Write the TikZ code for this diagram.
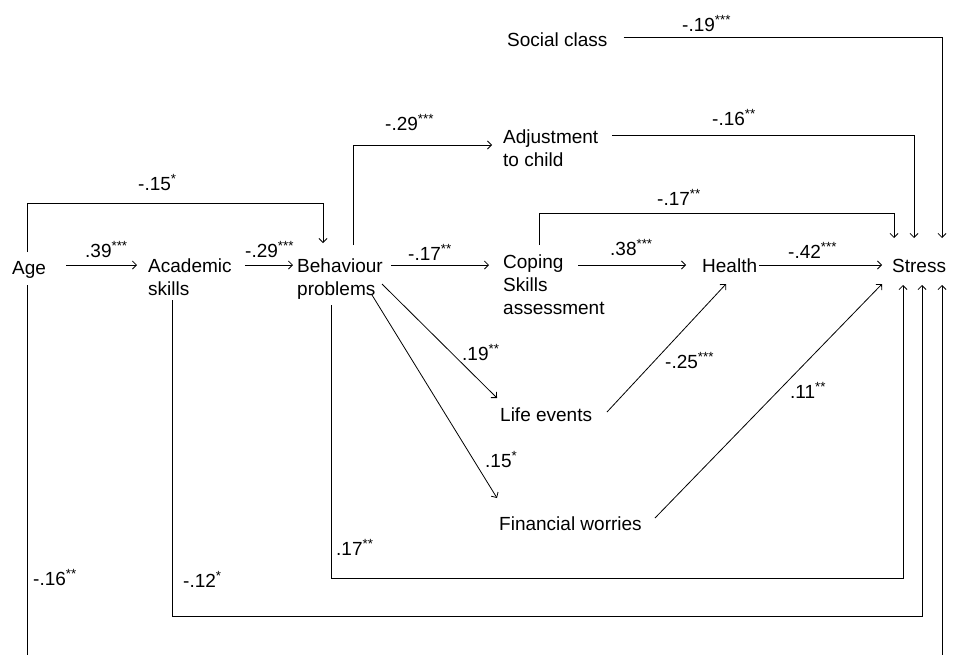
\documentclass[tikz,border=0pt]{standalone}
\usepackage{fontspec}
\setmainfont{Liberation Sans}
\usetikzlibrary{arrows.meta,calc}

\tikzset{
  var/.style={anchor=base west, inner sep=0pt, align=left},
  coef/.style={anchor=base west, inner sep=0pt},
  link/.style={line width=0.8pt},
  arr/.style={link, -{Straight Barb[length=4pt,width=8pt]}},
}
\newcommand{\sig}[1]{\textsuperscript{#1}}

\begin{document}
\begin{tikzpicture}[x=1pt,y=-1pt,font=\fontsize{19}{23}\selectfont]
\path[use as bounding box, clip] (0,0) rectangle (956,654);

% variables (base = baseline of the last line)
\node[var] (age)    at (12,274)  {Age};
\node[var] (acad)   at (148,295) {Academic\\skills};
\node[var] (behav)  at (297,295) {Behaviour\\problems};
\node[var] (coping) at (503,314) {Coping\\Skills\\assessment};
\node[var] (health) at (702,272) {Health};
\node[var] (stress) at (892,272) {Stress};
\node[var] (social) at (507,46)  {Social class};
\node[var] (adjust) at (503,166) {Adjustment\\to child};
\node[var] (life)   at (500,421) {Life events};
\node[var] (fin)    at (499,530) {Financial worries};

% entry points on Stress
\coordinate (sIn1)  at ($(stress.base west)+(2,-34)$);
\coordinate (sIn2)  at ($(stress.base west)+(22,-34)$);
\coordinate (sIn3)  at ($(stress.base west)+(50,-34)$);
\coordinate (sOut1) at ($(stress.base west)+(11,13)$);
\coordinate (sOut2) at ($(stress.base west)+(30,13)$);
\coordinate (sOut3) at ($(stress.base west)+(50,13)$);
\coordinate (row)   at (0,265);

% main chain
\draw[arr, shorten <=20pt, shorten >=11pt] (age.east |- row) -- (acad.west |- row);
\draw[arr, shorten <=13pt, shorten >=4pt]  (acad.east |- row) -- (behav.west |- row);
\draw[arr, shorten <=8pt, shorten >=14pt]  (behav.east |- row) -- (coping.west |- row);
\draw[arr] ($(coping.west |- row)+(75,0)$) -- ($(health.west |- row)+(-16,0)$);
\draw[arr, shorten <=2pt, shorten >=10pt]  (health.east |- row) -- (stress.west |- row);

% paths over the top
\draw[arr] ($(social.base east)+(16,-9)$) -| (sIn3);
\draw[arr] ($(adjust.base east)+(14,-31)$) -| (sIn2);
\draw[arr] ($(coping.base west)+(36,-69)$) -- ++(0,-32) -| (sIn1);
\draw[arr] ($(age.base west)+(15,-22)$) -- ++(0,-49) -| ($(behav.base west)+(26,-52)$);
\draw[arr] ($(behav.base west)+(56,-50)$) |- ($(adjust.base west)+(-11,-21)$);

% diagonals
\draw[arr] ($(behav.base west)+(85,-11)$) -- ($(life.base west)+(-3,-23)$);
\draw[arr] ($(behav.base west)+(75,0)$) -- ($(fin.base west)+(-2,-32)$);
\draw[arr] ($(life.base west)+(107,-9)$) -- ($(health.base west)+(24,12)$);
\draw[arr] ($(fin.base west)+(156,-12)$) -- ($(stress.base west)+(-10,12)$);

% paths underneath
\draw[arr] ($(behav.base west)+(34,10)$) -- ++(0,273) -| (sOut1);
\draw[arr] ($(acad.base west)+(24,5)$) -- ++(0,316) -| (sOut2);
\draw[arr] ($(age.base west)+(15,11)$) -- ++(0,420) -| (sOut3);

% coefficients
\node[coef] (c1)  at (85,257)  {.39\sig{***}};
\node[coef] (c2)  at (245,257) {-.29\sig{***}};
\node[coef] (c3)  at (408,260) {-.17\sig{**}};
\node[coef] (c4)  at (385,130) {-.29\sig{***}};
\node[coef] (c5)  at (138,190) {-.15\sig{*}};
\node[coef] (c6)  at (610,255) {.38\sig{***}};
\node[coef] (c7)  at (788,258) {-.42\sig{***}};
\node[coef] (c8)  at (682,31)  {-.19\sig{***}};
\node[coef] (c9)  at (712,125) {-.16\sig{**}};
\node[coef] (c10) at (657,205) {-.17\sig{**}};
\node[coef] (c11) at (462,360) {.19\sig{**}};
\node[coef] (c12) at (485,467) {.15\sig{*}};
\node[coef] (c13) at (665,368) {-.25\sig{***}};
\node[coef] (c14) at (790,398) {.11\sig{**}};
\node[coef] (c15) at (336,555) {.17\sig{**}};
\node[coef] (c16) at (33,585)  {-.16\sig{**}};
\node[coef] (c17) at (183,587) {-.12\sig{*}};
\end{tikzpicture}
\end{document}
